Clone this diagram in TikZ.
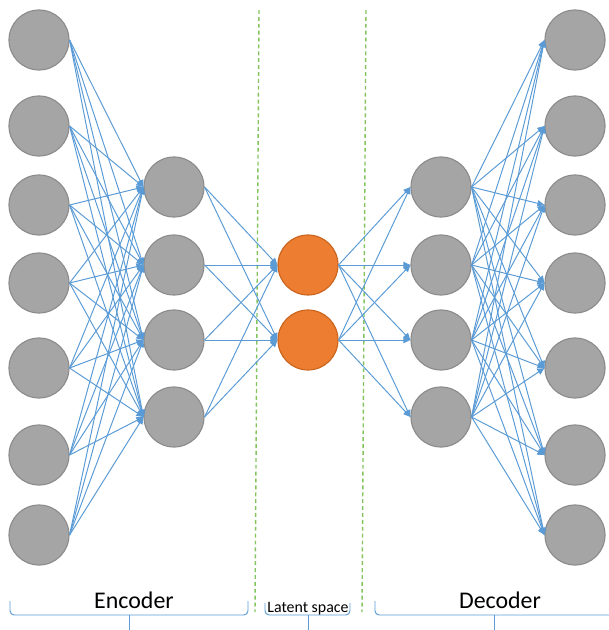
\documentclass[tikz,border=0pt]{standalone}
\usepackage{fontspec}
\setmainfont{Carlito}
\usetikzlibrary{arrows.meta}
\definecolor{unitgray}{HTML}{A5A5A5}
\definecolor{unitedge}{HTML}{8C8C8C}
\definecolor{codeorange}{HTML}{ED7D31}
\definecolor{codeedge}{HTML}{C9651F}
\definecolor{linkblue}{HTML}{5B9BD5}
\definecolor{sepgreen}{HTML}{84C45E}

\begin{document}
\begin{tikzpicture}[x=0.025cm,y=-0.025cm,
  unit/.style={circle,minimum size=1.5cm,inner sep=0pt,fill=unitgray,draw=unitedge,line width=0.8pt},
  code/.style={unit,fill=codeorange,draw=codeedge},
  link/.style={draw=linkblue,line width=0.7pt,-{Triangle[length=5pt,width=4.5pt]}},
  brace/.style={draw=linkblue,line width=0.7pt,rounded corners=3pt},
  sep/.style={draw=sepgreen,line width=1pt,dash pattern=on 2.8pt off 2.1pt}]
\useasboundingbox (0,0) rectangle (608,630);
% separators of the latent part
\draw[sep] (259,10) -- (255,612);
\draw[sep] (366,10) -- (362,612);
% layers
\foreach \y [count=\i] in {40,126,205,283,368,455,535} {
  \node[unit] (in\i) at (39,\y) {};
  \node[unit] (out\i) at (575,\y) {};
}
\foreach \y [count=\i] in {187,265,340,417} {
  \node[unit] (enc\i) at (174,\y) {};
  \node[unit] (dec\i) at (441,\y) {};
}
\node[code] (lat1) at (308,265) {};
\node[code] (lat2) at (308,340) {};
% weights
\foreach \i in {1,...,7}
\foreach \j in {1,...,4}
\draw[link] (in\i.east) -- (enc\j.west);
\foreach \i in {1,...,4}
\foreach \j in {1,2}
\draw[link] (enc\i.east) -- (lat\j.west);
\foreach \i in {1,2}
\foreach \j in {1,...,4}
\draw[link] (lat\i.east) -- (dec\j.west);
\foreach \i in {1,...,4}
\foreach \j in {1,...,7}
\draw[link] (dec\i.east) -- (out\j.west);
% braces and labels
\draw[brace] (10,601) -- (10,615) -- (248,615) -- (248,601);
\draw[brace] (129,615) -- (129,632);
\node[anchor=base,font=\fontsize{17}{20}\selectfont,inner sep=0pt] (enctext) at (134,608) {Encoder};
\draw[brace] (265,603) -- (265,615) -- (350,615) -- (350,603);
\draw[brace] (308,615) -- (308,632);
\node[anchor=base,font=\fontsize{11.3}{13}\selectfont,inner sep=0pt] (lattext) at (308,612) {Latent space};
\draw[brace] (375,601) -- (375,615) -- (615,615);
\draw[brace] (494,615) -- (494,632);
\node[anchor=base,font=\fontsize{17}{20}\selectfont,inner sep=0pt] (dectext) at (500,608) {Decoder};
\end{tikzpicture}
\end{document}
